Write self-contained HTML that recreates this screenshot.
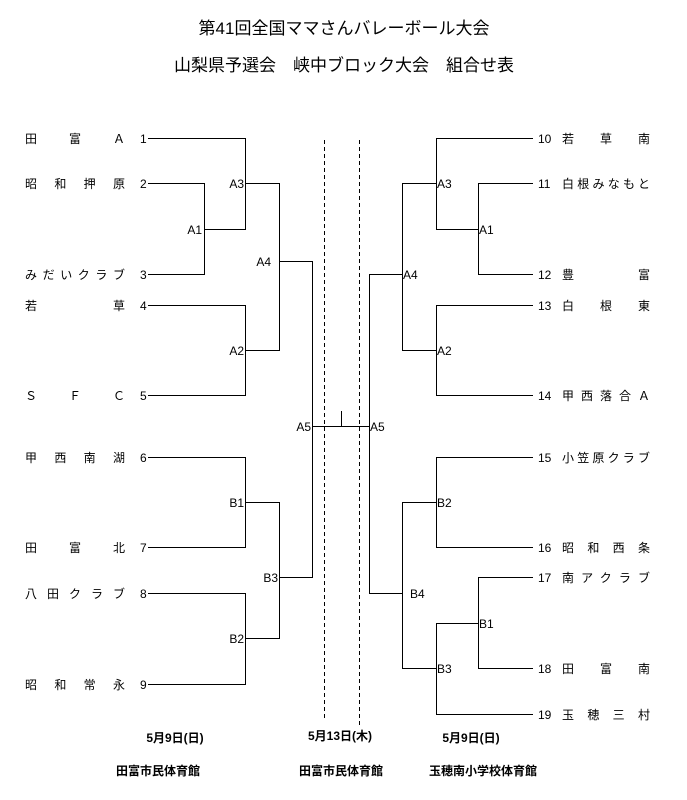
<!DOCTYPE html>
<html><head><meta charset="utf-8"><style>
html,body{margin:0;padding:0;background:#fff;}
svg{display:block;}
text{font-family:"Liberation Sans","Noto Sans CJK JP",sans-serif;fill:#000;}
</style></head><body>
<svg width="687" height="800" viewBox="0 0 687 800" xmlns="http://www.w3.org/2000/svg">
<text x="344" y="34" font-size="17" text-anchor="middle">第41回全国ママさんバレーボール大会</text>
<text x="344" y="71" font-size="17" text-anchor="middle">山梨県予選会　峡中ブロック大会　組合せ表</text>

<g font-size="12">
<!-- left names -->
<text x="25" y="143" textLength="100" lengthAdjust="spacing">田富Ａ</text><text x="140" y="143">1</text>
<text x="25" y="188" textLength="100" lengthAdjust="spacing">昭和押原</text><text x="140" y="188">2</text>
<text x="25" y="279" textLength="100" lengthAdjust="spacing">みだいクラブ</text><text x="140" y="279">3</text>
<text x="25" y="310" textLength="100" lengthAdjust="spacing">若草</text><text x="140" y="310">4</text>
<text x="25" y="400" textLength="100" lengthAdjust="spacing">ＳＦＣ</text><text x="140" y="400">5</text>
<text x="25" y="462" textLength="100" lengthAdjust="spacing">甲西南湖</text><text x="140" y="462">6</text>
<text x="25" y="552" textLength="100" lengthAdjust="spacing">田富北</text><text x="140" y="552">7</text>
<text x="25" y="598" textLength="100" lengthAdjust="spacing">八田クラブ</text><text x="140" y="598">8</text>
<text x="25" y="689" textLength="100" lengthAdjust="spacing">昭和常永</text><text x="140" y="689">9</text>
<!-- right names -->
<text x="538" y="143">10</text><text x="562" y="143" textLength="88" lengthAdjust="spacing">若草南</text>
<text x="538" y="188">11</text><text x="562" y="188" textLength="88" lengthAdjust="spacing">白根みなもと</text>
<text x="538" y="279">12</text><text x="562" y="279" textLength="88" lengthAdjust="spacing">豊富</text>
<text x="538" y="310">13</text><text x="562" y="310" textLength="88" lengthAdjust="spacing">白根東</text>
<text x="538" y="400">14</text><text x="562" y="400" textLength="88" lengthAdjust="spacing">甲西落合Ａ</text>
<text x="538" y="462">15</text><text x="562" y="462" textLength="88" lengthAdjust="spacing">小笠原クラブ</text>
<text x="538" y="552">16</text><text x="562" y="552" textLength="88" lengthAdjust="spacing">昭和西条</text>
<text x="538" y="582">17</text><text x="562" y="582" textLength="88" lengthAdjust="spacing">南アクラブ</text>
<text x="538" y="673">18</text><text x="562" y="673" textLength="88" lengthAdjust="spacing">田富南</text>
<text x="538" y="719">19</text><text x="562" y="719" textLength="88" lengthAdjust="spacing">玉穂三村</text>

<!-- match labels left -->
<text x="202" y="234" text-anchor="end">A1</text>
<text x="244" y="188" text-anchor="end">A3</text>
<text x="244" y="355" text-anchor="end">A2</text>
<text x="271" y="266" text-anchor="end">A4</text>
<text x="311" y="431" text-anchor="end">A5</text>
<text x="244" y="507" text-anchor="end">B1</text>
<text x="244" y="643" text-anchor="end">B2</text>
<text x="278" y="582" text-anchor="end">B3</text>
<!-- match labels right -->
<text x="479" y="234">A1</text>
<text x="437" y="188">A3</text>
<text x="437" y="355">A2</text>
<text x="403" y="279">A4</text>
<text x="370" y="431">A5</text>
<text x="437" y="507">B2</text>
<text x="479" y="628">B1</text>
<text x="437" y="673">B3</text>
<text x="410" y="598">B4</text>
</g>

<g stroke="#000" stroke-width="1" fill="none">
<!-- left -->
<polyline points="148,138.5 245.5,138.5 245.5,229.5"/>
<polyline points="148,183.5 204.5,183.5 204.5,274.5 148,274.5"/>
<line x1="204" y1="229.5" x2="246" y2="229.5"/>
<polyline points="245.5,183.5 279.5,183.5"/>
<polyline points="148,305.5 245.5,305.5 245.5,395.5 148,395.5"/>
<line x1="245" y1="350.5" x2="279.5" y2="350.5"/>
<line x1="279.5" y1="183" x2="279.5" y2="351"/>
<polyline points="279.5,261.5 312.5,261.5 312.5,578"/>
<polyline points="148,457.5 245.5,457.5 245.5,547.5 148,547.5"/>
<line x1="245" y1="502.5" x2="279.5" y2="502.5"/>
<polyline points="148,593.5 245.5,593.5 245.5,684.5 148,684.5"/>
<line x1="245" y1="638.5" x2="279.5" y2="638.5"/>
<line x1="279.5" y1="502" x2="279.5" y2="639"/>
<line x1="279.5" y1="577.5" x2="313" y2="577.5"/>
<!-- final -->
<line x1="312.5" y1="426.5" x2="369.5" y2="426.5"/>
<line x1="341.5" y1="411" x2="341.5" y2="426.5"/>
<!-- right -->
<polyline points="533,138.5 436.5,138.5 436.5,229.5 478.5,229.5"/>
<polyline points="533,183.5 478.5,183.5 478.5,274.5 533,274.5"/>
<line x1="436.5" y1="183.5" x2="402.5" y2="183.5"/>
<polyline points="533,305.5 436.5,305.5 436.5,395.5 533,395.5"/>
<line x1="436.5" y1="350.5" x2="402.5" y2="350.5"/>
<line x1="402.5" y1="183" x2="402.5" y2="351"/>
<polyline points="402.5,274.5 369.5,274.5 369.5,593.5 402.5,593.5"/>
<polyline points="533,457.5 436.5,457.5 436.5,547.5 533,547.5"/>
<line x1="436.5" y1="502.5" x2="402.5" y2="502.5"/>
<polyline points="533,577.5 478.5,577.5 478.5,668.5 533,668.5"/>
<polyline points="478.5,623.5 436.5,623.5 436.5,714.5 533,714.5"/>
<line x1="436.5" y1="668.5" x2="402.5" y2="668.5"/>
<line x1="402.5" y1="502" x2="402.5" y2="669"/>
<!-- dashed -->
<line x1="324.5" y1="140" x2="324.5" y2="718" stroke-dasharray="4,3"/>
<line x1="359.5" y1="140" x2="359.5" y2="725" stroke-dasharray="4,3"/>
</g>

<g font-size="12" font-weight="bold" text-anchor="middle">
<text x="175" y="742">5月9日(日)</text>
<text x="340" y="740">5月13日(木)</text>
<text x="471" y="742">5月9日(日)</text>
<text x="158" y="775">田富市民体育館</text>
<text x="341" y="775">田富市民体育館</text>
<text x="483" y="775">玉穂南小学校体育館</text>
</g>
</svg>
</body></html>
